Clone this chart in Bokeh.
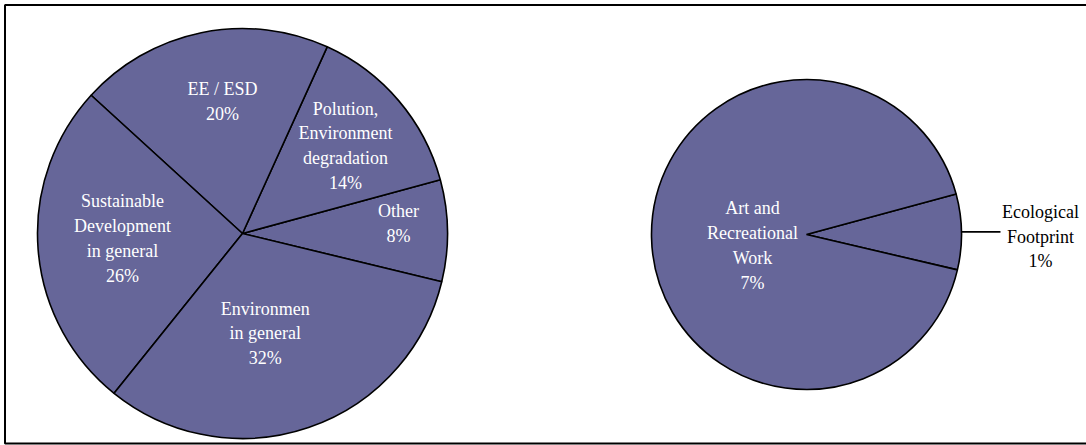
import math
from bokeh.plotting import figure
from bokeh.models import Range1d, ColumnDataSource
from bokeh.core.properties import value
from bokeh.embed import file_html
from bokeh.resources import INLINE

# ---- data ----
main_labels = ["Other", "Polution,\nEnvironment\ndegradation", "EE / ESD",
               "Sustainable\nDevelopment\nin general", "Environmen\nin general"]
main_values = [None, 14, 20, 26, 32]  # "Other" = sum of the secondary pie
sec_labels = ["Ecological\nFootprint", "Art and\nRecreational\nWork"]
sec_values = [0.63, 7.37]
main_values[0] = sum(sec_values)

# ---- layout ----
W, H = 1086, 445
FILL = "#666699"
FONT = "'Liberation Serif', serif"
FS = "18px"

def sy(y):  # screen y -> data y
    return H - y

main_c = (242, sy(233)); main_r = 205; main_start = -13.6
sec_c = (806, sy(234)); sec_r = 155; sec_start = -13.2
main_lab_shift = [3, 0, -3, -2, -6]
main_lab_frac = [0.763, 0.66, 0.651, 0.586, 0.50]
sec_lab_shift = [-1.5, 10.5]
sec_lab_frac = [1.51, 0.355]
sec_lab_color = ["black", "white"]

p = figure(width=W, height=H, output_backend="svg", toolbar_location=None,
           x_range=Range1d(0, W), y_range=Range1d(0, H), min_border=0)
p.axis.visible = False
p.grid.visible = False
p.outline_line_color = None
p.background_fill_color = "white"
p.border_fill_color = "white"

# frame
p.quad(left=[4.5], right=[W + 5], bottom=[sy(443)], top=[sy(4.5)],
       fill_color=None, line_color="black", line_width=2)

def pie(center, radius, start, values, labels, shifts, fracs, colors):
    total = sum(values)
    starts, ends, lx, ly, texts = [], [], [], [], []
    a = start
    for v, lab, sh, fr in zip(values, labels, shifts, fracs):
        span = v / total * 360.0
        starts.append(math.radians(a)); ends.append(math.radians(a + span))
        mid = math.radians(a + span / 2 + sh)
        lx.append(center[0] + fr * radius * math.cos(mid))
        ly.append(center[1] + fr * radius * math.sin(mid))
        texts.append(f"{lab}\n{round(v)}%")
        a += span
    src = ColumnDataSource(dict(start=starts, end=ends))
    p.wedge(x=center[0], y=center[1], radius=radius, start_angle="start",
            end_angle="end", direction="anticlock",
            fill_color=FILL, line_color="black", line_width=1.6, source=src)
    tsrc = ColumnDataSource(dict(x=lx, y=ly, t=texts, c=colors))
    p.text(x="x", y="y", text="t", text_color="c", source=tsrc,
           text_font=value(FONT), text_font_size=FS, text_align="center",
           text_baseline="middle", text_line_height=1.24)
    return starts, ends

pie(main_c, main_r, main_start, main_values, main_labels,
    main_lab_shift, main_lab_frac, ["white"] * 5)
s_starts, s_ends = pie(sec_c, sec_r, sec_start, sec_values, sec_labels,
                       sec_lab_shift, sec_lab_frac, sec_lab_color)

# leader line for the outside label
mid = (s_starts[0] + s_ends[0]) / 2
x0 = sec_c[0] + sec_r * math.cos(mid)
y0 = sec_c[1] + sec_r * math.sin(mid)
p.line(x=[x0, x0 + 39], y=[y0, y0], line_color="black", line_width=1.6)

open("out.html", "w").write(file_html(p, INLINE))
